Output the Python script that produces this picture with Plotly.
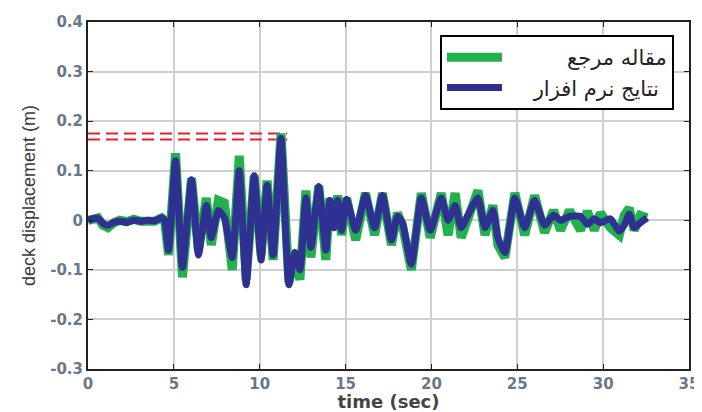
import plotly.graph_objects as go

# time (sec) sample points
t = [0.00, 0.29, 0.58, 0.87, 1.16, 1.51, 1.85, 2.26, 2.67, 3.07, 3.48, 3.88, 4.29, 4.46,
     4.69, 5.10, 5.50, 6.03, 6.43, 6.89, 7.18, 7.59, 7.94, 8.40, 8.81, 9.21, 9.68, 10.08,
     10.43, 10.78, 11.24, 11.70, 12.05, 12.34, 12.69, 12.98, 13.44, 13.85, 14.08, 14.31,
     14.54, 14.77, 15.06, 15.59, 16.16, 16.69, 17.15, 17.67, 18.02, 18.31, 18.83, 19.41,
     19.93, 20.57, 20.97, 21.38, 21.73, 22.19, 22.71, 23.12, 23.58, 23.87, 24.28, 24.86,
     25.43, 26.01, 26.59, 27.11, 27.52, 28.04, 28.68, 29.08, 29.49, 29.84, 30.42, 30.94,
     31.23, 31.52, 31.81, 32.16, 32.56]

# reference article (green)
ref_article = [0.0, 0.002, 0.005, -0.01, -0.015, -0.005, 0.0, -0.003, 0.002, -0.002, 0.0, -0.002, 0.005, 0.0,
               -0.07, 0.135, -0.115, 0.085, -0.06, 0.045, -0.05, 0.04, 0.035, -0.10, 0.13, -0.12, 0.09, -0.07,
               0.08, -0.08, 0.175, -0.125, -0.07, -0.12, 0.06, -0.075, 0.07, -0.08, 0.045, -0.02,
               0.05, -0.03, 0.045, -0.04, 0.055, -0.03, 0.055, -0.05, 0.015, -0.01, -0.10, 0.055,
               -0.035, 0.055, -0.03, 0.055, -0.035, 0.01, 0.06, -0.03, 0.03, -0.05, -0.075, 0.055,
               -0.03, 0.05, -0.025, 0.02, -0.02, 0.02, -0.02, 0.018, -0.02, 0.015, -0.015, -0.03,
               0.01, 0.025, -0.02, 0.01, 0.005]

# software results (blue)
software = [0.0, 0.003, 0.004, -0.006, -0.01, -0.004, -0.002, -0.004, 0.0, -0.002, 0.0, -0.001, 0.005, 0.0,
            -0.06, 0.12, -0.095, 0.082, -0.07, 0.03, -0.035, 0.02, 0.005, -0.075, 0.10, -0.13, 0.09, -0.08,
            0.07, -0.07, 0.165, -0.13, -0.065, -0.10, 0.045, -0.055, 0.068, -0.06, 0.04, -0.015,
            0.04, -0.02, 0.042, -0.02, 0.05, -0.015, 0.05, -0.04, 0.008, -0.005, -0.088, 0.045,
            -0.02, 0.045, 0.0, 0.03, -0.015, 0.015, 0.045, -0.015, 0.02, -0.035, -0.065, 0.045,
            -0.015, 0.04, -0.01, 0.01, 0.0, 0.008, 0.008, -0.008, 0.003, -0.005, 0.003, -0.022,
            -0.01, 0.012, -0.015, -0.005, 0.005]

# red dashed peak reference levels
peak_x = [0, 11.6]
peak_levels = [0.175, 0.163]

x_ticks = [0, 5, 10, 15, 20, 25, 30, 35]
y_ticks = [-0.3, -0.2, -0.1, 0, 0.1, 0.2, 0.3, 0.4]
y_tick_text = ["-0.3", "-0.2", "-0.1", "0", "0.1", "0.2", "0.3", "0.4"]

series_names = ["مقاله مرجع", "نتایج نرم افزار"]
name_pad = ["\u00a0" * 9, "\u00a0" * 4]  # right-align the Persian labels inside the legend box

fig = go.Figure()
for lvl in peak_levels:
    fig.add_trace(go.Scatter(x=peak_x, y=[lvl, lvl], mode="lines", showlegend=False,
                             line=dict(color="#e8202a", width=2, dash="12px,6px"), hoverinfo="skip"))
fig.add_trace(go.Scatter(x=t, y=ref_article, mode="lines", name=name_pad[0] + series_names[0],
                         line=dict(color="#22b14c", width=9)))
fig.add_trace(go.Scatter(x=t, y=software, mode="lines", name=name_pad[1] + series_names[1],
                         line=dict(color="#2e3192", width=7, shape="spline", smoothing=0.5)))

axis_font = dict(family="DejaVu Sans, sans-serif", size=15, color="#66788c", weight="bold")
fig.update_layout(
    width=694, height=404,
    margin=dict(l=80, r=13, t=14, b=43),
    paper_bgcolor="white", plot_bgcolor="white",
    showlegend=True,
    legend=dict(x=0.975, y=0.9625, xanchor="right", yanchor="top",
                bgcolor="white", bordercolor="black", borderwidth=2,
                font=dict(family="DejaVu Sans, Noto Sans, sans-serif", size=21, color="#222"),
                itemwidth=55, tracegroupgap=6),
    xaxis=dict(range=[0, 35], tickvals=x_ticks, showgrid=True, gridcolor="#cfcfcf", gridwidth=2,
               zeroline=False, showline=True, linecolor="#222", linewidth=2, mirror="ticks",
               ticks="inside", ticklen=5, tickcolor="#222", tickfont=axis_font, automargin=False,
               title=dict(text="time (sec)", standoff=7,
                          font=dict(family="DejaVu Sans, sans-serif", size=18, color="#444", weight="bold"))),
    yaxis=dict(range=[-0.3, 0.4], tickvals=y_ticks, ticktext=y_tick_text, showgrid=True,
               gridcolor="#cfcfcf", gridwidth=2, zeroline=False, showline=True, linecolor="#222",
               linewidth=2, mirror="ticks", ticks="inside", ticklen=5, tickcolor="#222",
               tickfont=axis_font, automargin=False,
               title=dict(text="deck displacement (m)", standoff=10,
                          font=dict(family="Liberation Sans, Arial, sans-serif", size=18, color="#3a3a3a"))),
)
fig.write_html("out.html")
